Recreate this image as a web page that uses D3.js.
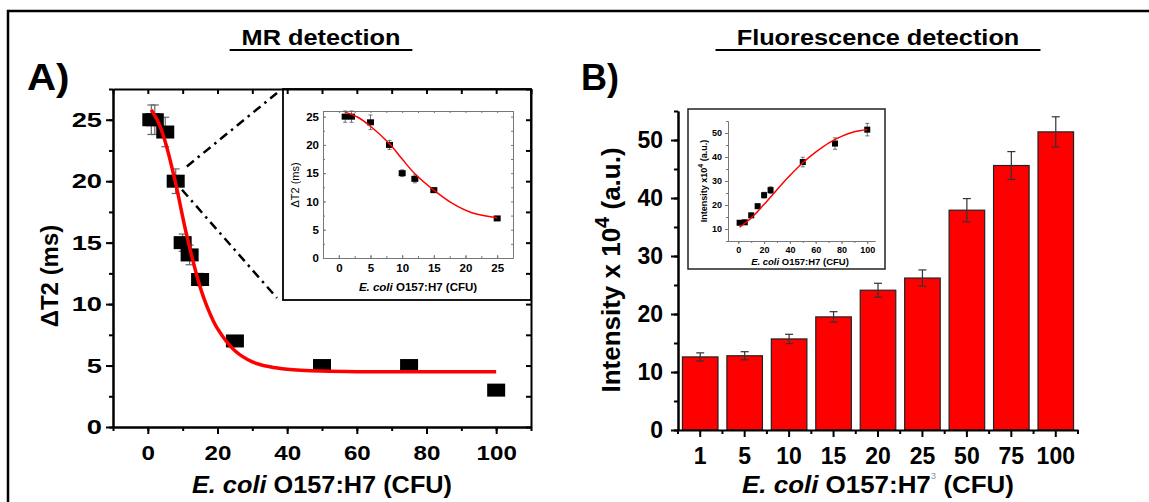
<!DOCTYPE html>
<html>
<head>
<meta charset="utf-8">
<script src="https://cdn.jsdelivr.net/npm/d3@7"></script>
<style>
body { margin: 0; background: #fff; }
svg { display: block; font-family: "Liberation Sans", Arial, sans-serif; }
</style>
</head>
<body>
<svg id="fig" width="1149" height="502"></svg>
<script>
// ---- panel A: MR detection ----
const mrCfu = [1, 2, 5, 8, 10, 12, 15, 25, 50, 75, 100];
const mrDeltaT2 = [25, 25, 24, 20, 15, 14, 12, 7, 5, 5, 3];
const mrErr = [1.2, 1.2, 1.2, 1.0, 0.7, 0.8, 0.5, 0.4, 0.3, 0.3, 0.3];
const mrFitCfu = [1, 3, 5, 8, 11, 15, 17, 20, 25, 30, 35, 40, 50, 60, 100];
const mrFitT2 = [25.8, 24.8, 23.2, 19.8, 15.8, 11.4, 9.8, 8.0, 6.2, 5.3, 4.9, 4.7, 4.55, 4.5, 4.5];
const mrXTicks = [0, 20, 40, 60, 80, 100];
const mrYTicks = [0, 5, 10, 15, 20, 25];
const zoomFrom = [[11.2, 21.2], [9.8, 19.3]];

// inset of A (low counts)
const lowCfu = [1, 2, 5, 8, 10, 12, 15, 25];
const lowDeltaT2 = [25, 25, 24, 20, 15, 14, 12, 7];
const lowErr = [1.0, 1.0, 1.3, 0.8, 0.6, 0.7, 0.4, 0.3];
const lowFitCfu = [1, 3, 5, 8, 10, 12, 15, 18, 21, 25];
const lowFitT2 = [25.8, 24.9, 23.3, 20.2, 17.5, 14.9, 12.0, 9.6, 8.0, 7.1];
const lowXTicks = [0, 5, 10, 15, 20, 25];
const lowYTicks = [0, 5, 10, 15, 20, 25];

// ---- panel B: fluorescence detection ----
const flCategories = ['1', '5', '10', '15', '20', '25', '50', '75', '100'];
const flIntensity = [12.6, 12.8, 15.7, 19.5, 24.1, 26.2, 37.9, 45.6, 51.4];
const flErr = [0.7, 0.7, 0.8, 0.9, 1.2, 1.4, 2.0, 2.4, 2.6];
const flYTicks = [0, 10, 20, 30, 40, 50];
const flFitCfu = [1, 10, 20, 30, 40, 50, 60, 70, 80, 90, 100];
const flFitInt = [10.8, 14.6, 20.3, 26.4, 32.3, 37.6, 42.0, 45.8, 48.6, 50.5, 51.5];
const flInsetXTicks = [0, 20, 40, 60, 80, 100];
const flInsetYTicks = [10, 20, 30, 40, 50];

const svg = d3.select('#fig');

// the source figure is a bit wider than its fonts, so squash text out sideways
function stretch(sel, k) {
	sel.each(function () {
		let w = this.getComputedTextLength();
		d3.select(this).attr('textLength', w * k).attr('lengthAdjust', 'spacingAndGlyphs');
	});
}

function drawAxis(gen, tr, o) {
	let g = svg.append('g').attr('transform', tr).call(gen).attr('font-family', null);
	g.select('.domain').attr('stroke', o.color).attr('stroke-width', o.width);
	g.selectAll('.tick line').attr('stroke', o.color).attr('stroke-width', o.width);
	g.selectAll('.tick text')
		.attr('font-size', o.font || 0)
		.attr('font-weight', 'bold')
		.attr('fill', '#000');
	if (!o.font) g.selectAll('.tick text').remove();
	if (o.noDomain) g.select('.domain').remove();
	if (o.font && o.k) stretch(g.selectAll('.tick text'), o.k);
	return g;
}

function ecoliLabel(x, y, size, k, gap) {
	let t = svg.append('text')
		.attr('x', x).attr('y', y)
		.attr('text-anchor', 'middle')
		.attr('font-size', size)
		.attr('font-weight', 'bold');
	t.append('tspan').attr('font-style', 'italic').text('E. coli');
	t.append('tspan').text(gap + 'O157:H7 (CFU)');
	if (k) stretch(t, k);
	return t;
}

function title(txt, cx, y) {
	let t = svg.append('text')
		.attr('x', cx).attr('y', y)
		.attr('text-anchor', 'middle')
		.attr('font-size', 22)
		.attr('font-weight', 'bold')
		.text(txt);
	stretch(t, 1.15);
	let w = t.node().getComputedTextLength() * 1.15;
	svg.append('line')
		.attr('x1', cx - w / 2).attr('x2', cx + w / 2)
		.attr('y1', y + 5).attr('y2', y + 5)
		.attr('stroke', '#000').attr('stroke-width', 2);
}

// outer frame (cut off on right and bottom)
svg.append('rect')
	.attr('x', 8).attr('y', 11).attr('width', 1200).attr('height', 600)
	.attr('fill', 'none').attr('stroke', '#000').attr('stroke-width', 2.5);

title('MR detection', 321, 45);
title('Fluorescence detection', 878, 45);

let pa = svg.append('text').attr('x', 27).attr('y', 90)
	.attr('font-size', 36).attr('font-weight', 'bold').text('A)');
stretch(pa, 1.12);
let pb = svg.append('text').attr('x', 581).attr('y', 90)
	.attr('font-size', 36).attr('font-weight', 'bold').text('B)');
stretch(pb, 1.0);

// ================= panel A =================
const ax = d3.scaleLinear().domain([-10, 110]).range([113, 531]);
const ay = d3.scaleLinear().domain([0, 27.5]).range([427, 89]);
const blk = { color: '#000', width: 2 };
const smooth = d3.curveCatmullRom.alpha(0.5);

drawAxis(d3.axisBottom(ax).tickValues(d3.range(-10, 111, 10)).tickFormat('').tickSize(4).tickSizeOuter(0),
	`translate(0,${ay(0)})`, blk);
drawAxis(d3.axisBottom(ax).tickValues(mrXTicks).tickSize(7).tickPadding(11).tickSizeOuter(0),
	`translate(0,${ay(0)})`, { ...blk, font: 21, k: 1.15 });
drawAxis(d3.axisLeft(ay).tickValues(d3.range(0, 27.6, 2.5)).tickFormat('').tickSize(4).tickSizeOuter(0),
	`translate(${ax(-10)},0)`, blk);
drawAxis(d3.axisLeft(ay).tickValues(mrYTicks).tickSize(7).tickPadding(4).tickSizeOuter(0),
	`translate(${ax(-10)},0)`, { ...blk, font: 21, k: 1.3 });

// error bars
let ea = svg.append('g').attr('stroke', '#666').attr('stroke-width', 1.2);
mrCfu.forEach((c, i) => {
	let x = ax(c), y1 = ay(mrDeltaT2[i] + mrErr[i]), y2 = ay(mrDeltaT2[i] - mrErr[i]);
	ea.append('line').attr('x1', x).attr('x2', x).attr('y1', y1).attr('y2', y2);
	ea.append('line').attr('x1', x - 4).attr('x2', x + 4).attr('y1', y1).attr('y2', y1);
	ea.append('line').attr('x1', x - 4).attr('x2', x + 4).attr('y1', y2).attr('y2', y2);
});

// squares
svg.append('g').selectAll('rect')
	.data(mrCfu)
	.enter().append('rect')
		.attr('x', (d) => ax(d) - 9)
		.attr('y', (d, i) => ay(mrDeltaT2[i]) - 6.5)
		.attr('width', 18)
		.attr('height', 13)
		.attr('fill', '#000');

// fitted curve
svg.append('path')
	.datum(mrFitCfu.map((c, i) => [c, mrFitT2[i]]))
	.attr('d', d3.line().x((d) => ax(d[0])).y((d) => ay(d[1])).curve(smooth))
	.attr('fill', 'none').attr('stroke', '#ff0000').attr('stroke-width', 3.5);

// inset box of A
const boxA = { x0: 283, y0: 89, x1: 531, y1: 300 };
[[zoomFrom[0], boxA.y0 + 4], [zoomFrom[1], boxA.y1 - 2]].forEach(([p, ty]) => {
	svg.append('line')
		.attr('x1', ax(p[0])).attr('y1', ay(p[1]))
		.attr('x2', boxA.x0 - 6).attr('y2', ty)
		.attr('stroke', '#000').attr('stroke-width', 2.5)
		.attr('stroke-dasharray', '9,5,2.5,5');
});
svg.append('rect')
	.attr('x', boxA.x0).attr('y', boxA.y0)
	.attr('width', boxA.x1 - boxA.x0).attr('height', boxA.y1 - boxA.y0)
	.attr('fill', '#fff').attr('stroke', '#000').attr('stroke-width', 1.8);

// mirror axes of A (top, right)
drawAxis(d3.axisTop(ax).tickValues(d3.range(-10, 111, 10)).tickFormat('').tickSize(-5).tickSizeOuter(0),
	`translate(0,${ay(27.5)})`, blk);
drawAxis(d3.axisRight(ay).tickValues(d3.range(0, 27.6, 2.5)).tickFormat('').tickSize(-5).tickSizeOuter(0),
	`translate(${ax(110)},0)`, blk);

// inset A plot
const lx = d3.scaleLinear().domain([-2.5, 27.5]).range([323, 513]);
const ly = d3.scaleLinear().domain([0, 26]).range([258, 111]);
const gry = { color: '#777', width: 1 };
drawAxis(d3.axisBottom(lx).tickValues(d3.range(-2.5, 27.6, 2.5)).tickFormat('').tickSize(-2).tickSizeOuter(0),
	`translate(0,${ly(0)})`, gry);
drawAxis(d3.axisBottom(lx).tickValues(lowXTicks).tickSize(-3).tickPadding(6).tickSizeOuter(0),
	`translate(0,${ly(0)})`, { ...gry, font: 11.5 });
drawAxis(d3.axisLeft(ly).tickValues(d3.range(0, 26.1, 2.5)).tickFormat('').tickSize(-2).tickSizeOuter(0),
	`translate(${lx(-2.5)},0)`, gry);
drawAxis(d3.axisLeft(ly).tickValues(lowYTicks).tickSize(-3).tickPadding(4).tickSizeOuter(0),
	`translate(${lx(-2.5)},0)`, { ...gry, font: 11.5 });
drawAxis(d3.axisTop(lx).tickValues(d3.range(-2.5, 27.6, 2.5)).tickFormat('').tickSize(-2).tickSizeOuter(0),
	`translate(0,${ly(26)})`, gry);
drawAxis(d3.axisRight(ly).tickValues(d3.range(0, 26.1, 2.5)).tickFormat('').tickSize(-2).tickSizeOuter(0),
	`translate(${lx(27.5)},0)`, gry);

let el = svg.append('g').attr('stroke', '#555').attr('stroke-width', 0.8);
lowCfu.forEach((c, i) => {
	let x = lx(c), y1 = ly(lowDeltaT2[i] + lowErr[i]), y2 = ly(lowDeltaT2[i] - lowErr[i]);
	el.append('line').attr('x1', x).attr('x2', x).attr('y1', y1).attr('y2', y2);
	el.append('line').attr('x1', x - 2).attr('x2', x + 2).attr('y1', y1).attr('y2', y1);
	el.append('line').attr('x1', x - 2).attr('x2', x + 2).attr('y1', y2).attr('y2', y2);
});
svg.append('g').selectAll('rect')
	.data(lowCfu)
	.enter().append('rect')
		.attr('x', (d) => lx(d) - 3.5)
		.attr('y', (d, i) => ly(lowDeltaT2[i]) - 3)
		.attr('width', 7)
		.attr('height', 6)
		.attr('fill', '#000');
svg.append('path')
	.datum(lowFitCfu.map((c, i) => [c, lowFitT2[i]]))
	.attr('d', d3.line().x((d) => lx(d[0])).y((d) => ly(d[1])).curve(smooth))
	.attr('fill', 'none').attr('stroke', '#ff0000').attr('stroke-width', 1.5);

svg.append('text')
	.attr('transform', 'translate(299,185) rotate(-90)')
	.attr('text-anchor', 'middle')
	.attr('font-size', 11)
	.text('\u0394T2 (ms)');
ecoliLabel(418, 291, 11.5, 1.0, ' ');

// axis titles of A
svg.append('text')
	.attr('transform', 'translate(58,276) rotate(-90)')
	.attr('text-anchor', 'middle')
	.attr('font-size', 24)
	.attr('font-weight', 'bold')
	.text('\u0394T2 (ms)');
ecoliLabel(322, 493, 23, 1.1, ' ');

// ================= panel B =================
const bx = d3.scaleBand().domain(flCategories).range([678, 1078]).paddingInner(0.2).paddingOuter(0.1);
const by = d3.scaleLinear().domain([0, 55]).range([430, 111]);

svg.append('g').selectAll('rect')
	.data(flIntensity)
	.enter().append('rect')
		.attr('x', (d, i) => bx(flCategories[i]))
		.attr('y', (d) => by(d))
		.attr('width', bx.bandwidth())
		.attr('height', (d) => by(0) - by(d))
		.attr('fill', '#ff0000')
		.attr('stroke', '#222')
		.attr('stroke-width', 1.2);

let eb = svg.append('g').attr('stroke', '#333').attr('stroke-width', 1.2);
flCategories.forEach((c, i) => {
	let x = bx(c) + bx.bandwidth() / 2;
	let y1 = by(flIntensity[i] + flErr[i]), y2 = by(flIntensity[i] - flErr[i]);
	eb.append('line').attr('x1', x).attr('x2', x).attr('y1', y1).attr('y2', y2);
	eb.append('line').attr('x1', x - 4).attr('x2', x + 4).attr('y1', y1).attr('y2', y1);
	eb.append('line').attr('x1', x - 4).attr('x2', x + 4).attr('y1', y2).attr('y2', y2);
});

// x axis: long ticks under bars, short ticks between them
const step = bx.step();
const between = d3.range(flCategories.length + 1).map((i) => 678 + i * step);
let gBetween = svg.append('g').attr('stroke', '#000').attr('stroke-width', 2);
between.forEach((x) => {
	gBetween.append('line').attr('x1', x).attr('x2', x).attr('y1', by(0)).attr('y2', by(0) + 4);
});
drawAxis(d3.axisBottom(bx).tickSize(7).tickPadding(11).tickSizeOuter(0),
	`translate(0,${by(0)})`, { ...blk, font: 23 });
drawAxis(d3.axisLeft(by).tickValues(d3.range(0, 55.1, 5)).tickFormat('').tickSize(4).tickSizeOuter(0),
	`translate(678,0)`, blk);
drawAxis(d3.axisLeft(by).tickValues(flYTicks).tickSize(7).tickPadding(8).tickSizeOuter(0),
	`translate(678,0)`, { ...blk, font: 23 });

let ytB = svg.append('text')
	.attr('transform', 'translate(620,270) rotate(-90)')
	.attr('text-anchor', 'middle')
	.attr('font-size', 26)
	.attr('font-weight', 'bold');
ytB.append('tspan').text('Intensity x 10');
ytB.append('tspan').attr('font-size', 20).attr('dy', -11).text('4');
ytB.append('tspan').attr('dy', 11).text(' (a.u.)');

let xtB = svg.append('text')
	.attr('x', 878).attr('y', 493)
	.attr('text-anchor', 'middle')
	.attr('font-size', 24)
	.attr('font-weight', 'bold');
xtB.append('tspan').attr('font-style', 'italic').text('E. coli');
xtB.append('tspan').text(' O157:H7');
xtB.append('tspan').attr('font-size', 9).attr('font-weight', 'normal').attr('fill', '#999').attr('dy', -14).text('3');
xtB.append('tspan').attr('dy', 14).text(' (CFU)');
stretch(xtB, 1.08);

// inset of B
const boxB = { x0: 688, y0: 109, x1: 885, y1: 269 };
svg.append('rect')
	.attr('x', boxB.x0).attr('y', boxB.y0)
	.attr('width', boxB.x1 - boxB.x0).attr('height', boxB.y1 - boxB.y0)
	.attr('fill', '#fff').attr('stroke', '#222').attr('stroke-width', 1.5);

const fx = d3.scaleLinear().domain([-8, 106]).range([728, 875]);
const fy = d3.scaleLinear().domain([5, 55]).range([241, 121]);
drawAxis(d3.axisBottom(fx).tickValues(d3.range(0, 101, 10)).tickFormat('').tickSize(2).tickSizeOuter(0),
	`translate(0,${fy(5)})`, gry);
drawAxis(d3.axisBottom(fx).tickValues(flInsetXTicks).tickSize(3).tickPadding(3).tickSizeOuter(0),
	`translate(0,${fy(5)})`, { ...gry, font: 9 });
drawAxis(d3.axisLeft(fy).tickValues(d3.range(5, 55.1, 5)).tickFormat('').tickSize(2).tickSizeOuter(0),
	`translate(728,0)`, gry);
drawAxis(d3.axisLeft(fy).tickValues(flInsetYTicks).tickSize(3).tickPadding(3).tickSizeOuter(0),
	`translate(728,0)`, { ...gry, font: 9 });

let ef = svg.append('g').attr('stroke', '#555').attr('stroke-width', 0.8);
flCategories.forEach((c, i) => {
	let x = fx(+c), y1 = fy(flIntensity[i] + flErr[i]), y2 = fy(flIntensity[i] - flErr[i]);
	ef.append('line').attr('x1', x).attr('x2', x).attr('y1', y1).attr('y2', y2);
	ef.append('line').attr('x1', x - 2).attr('x2', x + 2).attr('y1', y1).attr('y2', y1);
	ef.append('line').attr('x1', x - 2).attr('x2', x + 2).attr('y1', y2).attr('y2', y2);
});
svg.append('g').selectAll('rect')
	.data(flCategories)
	.enter().append('rect')
		.attr('x', (d) => fx(+d) - 3)
		.attr('y', (d, i) => fy(flIntensity[i]) - 3)
		.attr('width', 6)
		.attr('height', 6)
		.attr('fill', '#000');
svg.append('path')
	.datum(flFitCfu.map((c, i) => [c, flFitInt[i]]))
	.attr('d', d3.line().x((d) => fx(d[0])).y((d) => fy(d[1])).curve(smooth))
	.attr('fill', 'none').attr('stroke', '#ff0000').attr('stroke-width', 1.5);

let ytF = svg.append('text')
	.attr('transform', 'translate(707,181) rotate(-90)')
	.attr('text-anchor', 'middle')
	.attr('font-size', 9)
	.attr('font-weight', 'bold');
ytF.append('tspan').text('Intensity x10');
ytF.append('tspan').attr('font-size', 7).attr('dy', -4).text('4');
ytF.append('tspan').attr('dy', 4).text(' (a.u.)');
ecoliLabel(800, 265, 9.5, 1.0, '  ');
</script>
</body>
</html>
